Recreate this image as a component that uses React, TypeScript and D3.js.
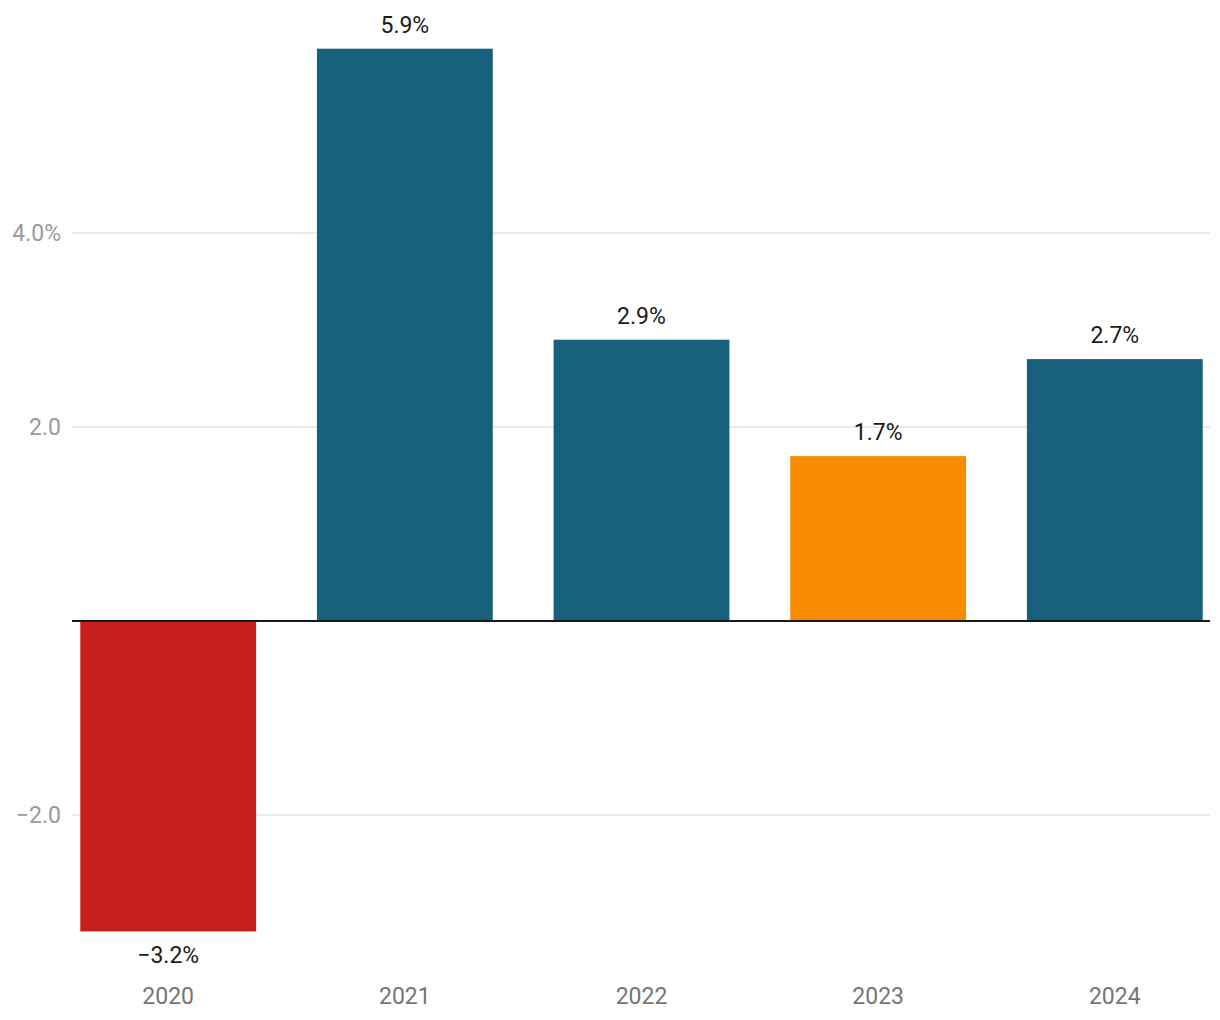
import React, { useRef, useEffect } from "react";
import * as d3 from "d3";

const years = ["2020", "2021", "2022", "2023", "2024"];
const growth = [-3.2, 5.9, 2.9, 1.7, 2.7];
const barColors = ["#c81e1e", "#17607b", "#17607b", "#f78c00", "#17607b"];
const tickValues = [-2, 2, 4];
const tickLabels = ["\u22122.0", "2.0", "4.0%"];

const App: React.FC = () => {
  const svg = useRef<SVGSVGElement>(null);
  const width = 1220;
  const height = 1020;

  useEffect(() => {
    const s = d3.select(svg.current);
    s.selectAll("*").remove();

    const x = d3
      .scaleBand<string>()
      .domain(years)
      .range([72, 1211])
      .paddingInner(0.257)
      .paddingOuter(0.035);
    const y = d3.scaleLinear().domain([-2, 4]).range([815, 233]);

    const fmt = (v: number) => (v < 0 ? "\u2212" : "") + Math.abs(v).toFixed(1) + "%";

    // grid
    s.append("g")
      .selectAll("line")
      .data(tickValues)
      .join("line")
      .attr("x1", 72)
      .attr("x2", 1210)
      .attr("y1", (d) => y(d))
      .attr("y2", (d) => y(d))
      .attr("stroke", "#e2e2e2")
      .attr("stroke-width", 1.5);

    s.append("g")
      .selectAll("text")
      .data(tickValues)
      .join("text")
      .attr("x", 61)
      .attr("y", (d) => y(d))
      .attr("dy", "0.35em")
      .attr("text-anchor", "end")
      .attr("fill", "#9a9a9a")
      .attr("font-family", "Roboto")
      .attr("font-size", 23)
      .text((d, i) => tickLabels[i]);

    // bars
    s.append("g")
      .selectAll("rect")
      .data(growth)
      .join("rect")
      .attr("x", (d, i) => x(years[i])!)
      .attr("width", x.bandwidth())
      .attr("y", (d) => y(Math.max(0, d)))
      .attr("height", (d) => Math.abs(y(d) - y(0)))
      .attr("fill", (d, i) => barColors[i]);

    // value labels
    s.append("g")
      .selectAll("text")
      .data(growth)
      .join("text")
      .attr("x", (d, i) => x(years[i])! + x.bandwidth() / 2)
      .attr("y", (d) => (d >= 0 ? y(d) - 16 : y(d) + 32))
      .attr("text-anchor", "middle")
      .attr("fill", "#1a1a1a")
      .attr("font-family", "Roboto")
      .attr("font-size", 23)
      .text((d) => fmt(d));

    // zero line
    s.append("line")
      .attr("x1", 72)
      .attr("x2", 1210)
      .attr("y1", y(0))
      .attr("y2", y(0))
      .attr("stroke", "#1a1a1a")
      .attr("stroke-width", 2);

    // x labels
    s.append("g")
      .selectAll("text")
      .data(years)
      .join("text")
      .attr("x", (d) => x(d)! + x.bandwidth() / 2)
      .attr("y", 1004)
      .attr("text-anchor", "middle")
      .attr("fill", "#757575")
      .attr("font-family", "Roboto")
      .attr("font-size", 23)
      .text((d) => d);
  }, []);

  return (
    <svg
      ref={svg}
      width={width}
      height={height}
      style={{ position: "absolute", left: 0, top: 0, background: "#fff" }}
    ></svg>
  );
};

export default App;
